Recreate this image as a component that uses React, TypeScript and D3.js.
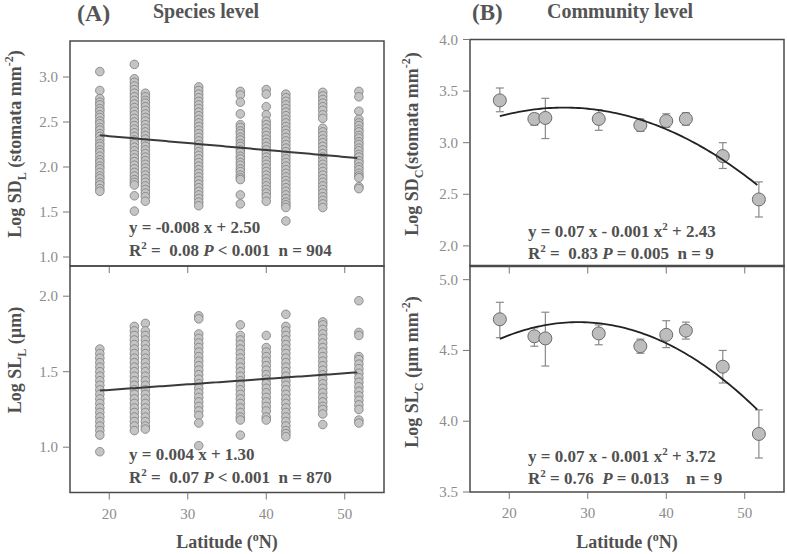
import React from 'react';
import * as d3 from 'd3';

// latitude of each sampling site (deg N)
const lats = [18.8, 23.2, 24.6, 31.4, 36.7, 40.0, 42.5, 47.2, 51.8];

// species level, log stomatal density, one list per site
const sdL = [
  [3.06, 2.85, 2.76, 2.72, 2.69, 2.65, 2.62, 2.58, 2.55, 2.51, 2.48, 2.44, 2.41, 2.37, 2.34, 2.30, 2.26, 2.23, 2.19, 2.16, 2.12, 2.08, 2.05, 2.01, 1.98, 1.94, 1.90, 1.87, 1.83, 1.80, 1.76, 1.73],
  [3.14, 2.98, 2.94, 2.90, 2.86, 2.82, 2.78, 2.74, 2.70, 2.66, 2.62, 2.58, 2.54, 2.50, 2.46, 2.42, 2.38, 2.34, 2.30, 2.26, 2.22, 2.18, 2.14, 2.10, 2.06, 2.02, 1.98, 1.94, 1.90, 1.86, 1.83, 1.80, 1.68, 1.51],
  [2.82, 2.78, 2.74, 2.71, 2.67, 2.63, 2.59, 2.55, 2.51, 2.47, 2.43, 2.39, 2.35, 2.31, 2.27, 2.23, 2.19, 2.15, 2.11, 2.07, 2.03, 1.99, 1.95, 1.91, 1.87, 1.83, 1.79, 1.75, 1.71, 1.67, 1.62],
  [2.89, 2.85, 2.81, 2.77, 2.73, 2.69, 2.65, 2.61, 2.57, 2.53, 2.49, 2.45, 2.41, 2.37, 2.33, 2.29, 2.25, 2.21, 2.17, 2.13, 2.09, 2.05, 2.01, 1.97, 1.93, 1.89, 1.85, 1.81, 1.77, 1.73, 1.69, 1.65, 1.61, 1.57],
  [2.84, 2.80, 2.72, 2.59, 2.47, 2.44, 2.40, 2.37, 2.33, 2.30, 2.26, 2.23, 2.19, 2.16, 2.12, 2.09, 2.05, 2.02, 1.98, 1.95, 1.91, 1.88, 1.86, 1.69, 1.59],
  [2.86, 2.81, 2.67, 2.58, 2.51, 2.47, 2.43, 2.39, 2.35, 2.31, 2.27, 2.23, 2.19, 2.15, 2.11, 2.07, 2.03, 1.99, 1.95, 1.91, 1.87, 1.83, 1.79, 1.75, 1.71, 1.67, 1.62],
  [2.81, 2.77, 2.73, 2.69, 2.65, 2.61, 2.57, 2.53, 2.49, 2.45, 2.41, 2.37, 2.33, 2.29, 2.25, 2.21, 2.17, 2.13, 2.09, 2.05, 2.01, 1.97, 1.93, 1.89, 1.85, 1.81, 1.77, 1.73, 1.69, 1.65, 1.61, 1.58, 1.55, 1.40],
  [2.83, 2.79, 2.75, 2.71, 2.67, 2.63, 2.58, 2.54, 2.43, 2.39, 2.35, 2.31, 2.27, 2.23, 2.19, 2.15, 2.11, 2.07, 2.03, 1.99, 1.95, 1.91, 1.87, 1.83, 1.79, 1.75, 1.71, 1.67, 1.63, 1.59, 1.55],
  [2.84, 2.78, 2.62, 2.53, 2.49, 2.46, 2.42, 2.39, 2.35, 2.32, 2.28, 2.25, 2.21, 2.18, 2.14, 2.11, 2.07, 2.04, 2.00, 1.97, 1.93, 1.90, 1.88, 1.78, 1.76],
];

// species level, log stomatal length
const slL = [
  [1.65, 1.62, 1.59, 1.56, 1.53, 1.50, 1.47, 1.44, 1.41, 1.38, 1.35, 1.32, 1.29, 1.26, 1.23, 1.20, 1.17, 1.14, 1.11, 1.08, 0.97],
  [1.80, 1.77, 1.74, 1.71, 1.68, 1.65, 1.62, 1.59, 1.56, 1.53, 1.50, 1.47, 1.44, 1.41, 1.38, 1.35, 1.32, 1.29, 1.26, 1.23, 1.20, 1.17, 1.14, 1.11],
  [1.82, 1.77, 1.74, 1.71, 1.68, 1.65, 1.62, 1.59, 1.56, 1.53, 1.50, 1.47, 1.44, 1.41, 1.38, 1.35, 1.32, 1.29, 1.26, 1.23, 1.20, 1.17, 1.14, 1.12],
  [1.87, 1.85, 1.75, 1.72, 1.69, 1.66, 1.63, 1.60, 1.57, 1.54, 1.51, 1.48, 1.45, 1.42, 1.39, 1.36, 1.33, 1.30, 1.27, 1.24, 1.21, 1.16, 1.01],
  [1.81, 1.74, 1.71, 1.68, 1.65, 1.62, 1.59, 1.56, 1.53, 1.50, 1.47, 1.44, 1.41, 1.38, 1.35, 1.32, 1.29, 1.26, 1.23, 1.20, 1.18, 1.08],
  [1.74, 1.66, 1.63, 1.60, 1.57, 1.54, 1.51, 1.48, 1.45, 1.42, 1.39, 1.36, 1.33, 1.30, 1.27, 1.24, 1.20, 1.18],
  [1.88, 1.80, 1.77, 1.74, 1.71, 1.68, 1.65, 1.62, 1.59, 1.56, 1.53, 1.50, 1.47, 1.44, 1.41, 1.38, 1.35, 1.32, 1.29, 1.26, 1.23, 1.20, 1.17, 1.14, 1.11, 1.09, 1.07],
  [1.83, 1.81, 1.78, 1.75, 1.72, 1.69, 1.66, 1.63, 1.60, 1.57, 1.54, 1.51, 1.48, 1.45, 1.42, 1.39, 1.36, 1.33, 1.30, 1.27, 1.25, 1.22, 1.15],
  [1.97, 1.76, 1.74, 1.60, 1.58, 1.55, 1.52, 1.49, 1.46, 1.43, 1.40, 1.37, 1.34, 1.31, 1.28, 1.25, 1.18, 1.16],
];

// community level means with error bar ends
const sdC = [3.41, 3.23, 3.24, 3.23, 3.17, 3.21, 3.23, 2.87, 2.45];
const sdCLo = [3.30, 3.17, 3.04, 3.12, 3.11, 3.15, 3.17, 2.75, 2.28];
const sdCHi = [3.53, 3.28, 3.43, 3.32, 3.23, 3.28, 3.29, 3.00, 2.62];
const slC = [4.72, 4.60, 4.585, 4.62, 4.53, 4.61, 4.64, 4.385, 3.91];
const slCLo = [4.59, 4.53, 4.39, 4.54, 4.48, 4.52, 4.58, 4.27, 3.74];
const slCHi = [4.84, 4.66, 4.77, 4.68, 4.58, 4.71, 4.70, 4.50, 4.08];

// fitted lines: [intercept, slope, quadratic]
const fitSdL = [2.497, -0.0077, 0];
const fitSlL = [1.306, 0.00367, 0];
const fitSdC = [2.436, 0.06696, -0.00124];
const fitSlC = [3.713, 0.06854, -0.00119];

const xTicks = [20, 30, 40, 50];
const sdLTicks = [1.0, 1.5, 2.0, 2.5, 3.0];
const slLTicks = [1.0, 1.5, 2.0];
const sdCTicks = [2.0, 2.5, 3.0, 3.5, 4.0];
const slCTicks = [3.5, 4.0, 4.5, 5.0];

const FONT = '"Liberation Serif", "Times New Roman", serif';
const TXT = '#505050';

function fitLine(fit, x, y) {
  var xs = d3.range(18.8, 51.81, 0.4);
  var line = d3.line()
    .x(function (d) { return x(d); })
    .y(function (d) { return y(fit[0] + fit[1] * d + fit[2] * d * d); });
  return line(xs);
}

function Frame({ x, y, yTicks, xLabels }) {
  var [x0, x1] = x.range();
  var [yb, yt] = y.range();
  return (
    <g>
      <rect x={x0} y={yt} width={x1 - x0} height={yb - yt} fill="none" stroke="#4a4a4a" strokeWidth={1.5} />
      {yTicks.map(function (t) {
        return (
          <g key={t}>
            <line x1={x0 - 7} x2={x0} y1={y(t)} y2={y(t)} stroke="#777" />
            <text x={x0 - 12} y={y(t) + 5} textAnchor="end" fontSize={15} fill="#8c8c8c">{t.toFixed(1)}</text>
          </g>
        );
      })}
      {xTicks.map(function (t) {
        return (
          <g key={t}>
            <line x1={x(t)} x2={x(t)} y1={yb} y2={yb + 7} stroke="#777" />
            {xLabels && <text x={x(t)} y={yb + 26} textAnchor="middle" fontSize={15} fill="#8c8c8c">{t}</text>}
          </g>
        );
      })}
    </g>
  );
}

function YTitle({ x, y, main, sub, rest, sup, tail }) {
  return (
    <text transform={'translate(' + x + ',' + y + ') rotate(-90)'} textAnchor="middle" fontSize={18} fontWeight="bold" fill={TXT} xmlSpace="preserve">
      {main}
      <tspan fontSize={12} dy={5}>{sub}</tspan>
      <tspan dy={-5}>{rest}</tspan>
      {sup && <tspan fontSize={12} dy={-8}>{sup}</tspan>}
      {sup && <tspan dy={8}>{tail}</tspan>}
      {!sup && tail}
    </text>
  );
}

function Stats({ x, y, eq, r2, p, n }) {
  return (
    <g fontSize={17} fontWeight="bold" fill={TXT}>
      <text x={x} y={y} xmlSpace="preserve">{eq}</text>
      <text x={x} y={y + 23} xmlSpace="preserve">
        R<tspan fontSize={11} dy={-7}>2</tspan>
        <tspan dy={7}>{r2}</tspan>
        <tspan fontStyle="italic">P</tspan>
        <tspan>{p}</tspan>
        <tspan>{n}</tspan>
      </text>
    </g>
  );
}

function QuadEq({ x, y, c }) {
  return (
    <text x={x} y={y} fontSize={17} fontWeight="bold" fill={TXT} xmlSpace="preserve">
      y = 0.07 x - 0.001 x<tspan fontSize={11} dy={-7}>2</tspan><tspan dy={7}>{' + ' + c}</tspan>
    </text>
  );
}

function Scatter({ cols, x, y }) {
  return (
    <g>
      {cols.map(function (col, i) {
        return col.map(function (v, j) {
          return <circle key={i + '-' + j} cx={x(lats[i])} cy={y(v)} r={4.3} fill="#c4c4c4" stroke="#7c7c7c" strokeWidth={0.8} />;
        });
      })}
    </g>
  );
}

function MeanPoints({ vals, lo, hi, x, y }) {
  return (
    <g>
      {vals.map(function (v, i) {
        var cx = x(lats[i]);
        return (
          <g key={i}>
            <line x1={cx} x2={cx} y1={y(lo[i])} y2={y(hi[i])} stroke="#8a8a8a" strokeWidth={1.2} />
            <line x1={cx - 4} x2={cx + 4} y1={y(lo[i])} y2={y(lo[i])} stroke="#8a8a8a" strokeWidth={1.2} />
            <line x1={cx - 4} x2={cx + 4} y1={y(hi[i])} y2={y(hi[i])} stroke="#8a8a8a" strokeWidth={1.2} />
          </g>
        );
      })}
      {vals.map(function (v, i) {
        return <circle key={'c' + i} cx={x(lats[i])} cy={y(v)} r={6.5} fill="#bdbdbd" stroke="#6a6a6a" strokeWidth={1} />;
      })}
    </g>
  );
}

export default function App() {
  var xL = d3.scaleLinear().domain([15, 55]).range([70, 384]);
  var xR = d3.scaleLinear().domain([15, 55]).range([470, 784]);
  var ySdL = d3.scaleLinear().domain([0.9, 3.4]).range([266, 41]);
  var ySlL = d3.scaleLinear().domain([0.7, 2.2]).range([492.5, 266]);
  var ySdC = d3.scaleLinear().domain([1.8, 4.0]).range([266.5, 39.5]);
  var ySlC = d3.scaleLinear().domain([3.5, 5.1]).range([492, 265.5]);

  return (
    <svg width={787} height={554} style={{ position: 'absolute', left: 0, top: 0, background: '#fff' }} fontFamily={FONT}>
      {/* panel headings */}
      <text x={77} y={21} fontSize={24} fontWeight="bold" fill="#555">(A)</text>
      <text x={153} y={17.5} fontSize={20} fontWeight="bold" fill="#555">Species level</text>
      <text x={472} y={19.5} fontSize={23} fontWeight="bold" fill="#555">(B)</text>
      <text x={547} y={17.5} fontSize={20} fontWeight="bold" fill="#555">Community level</text>

      {/* species level */}
      <Scatter cols={sdL} x={xL} y={ySdL} />
      <path d={fitLine(fitSdL, xL, ySdL)} fill="none" stroke="#3a3a3a" strokeWidth={2} />
      <Frame x={xL} y={ySdL} yTicks={sdLTicks} xLabels={false} />
      <Stats x={129} y={233} eq="y = -0.008 x + 2.50" r2=" =  0.08 " p=" < 0.001  " n="n = 904" />

      <Scatter cols={slL} x={xL} y={ySlL} />
      <path d={fitLine(fitSlL, xL, ySlL)} fill="none" stroke="#3a3a3a" strokeWidth={2} />
      <Frame x={xL} y={ySlL} yTicks={slLTicks} xLabels={true} />
      <Stats x={129} y={460} eq="y = 0.004 x + 1.30" r2=" =  0.07 " p=" < 0.001  " n="n = 870" />

      <YTitle x={21} y={144} main="Log SD" sub="L" rest=" (stomata mm" sup="-2" tail=")" />
      <YTitle x={21} y={360} main="Log SL" sub="L" rest=" (µm)" />

      {/* community level */}
      <MeanPoints vals={sdC} lo={sdCLo} hi={sdCHi} x={xR} y={ySdC} />
      <path d={fitLine(fitSdC, xR, ySdC)} fill="none" stroke="#222" strokeWidth={1.8} />
      <Frame x={xR} y={ySdC} yTicks={sdCTicks} xLabels={false} />
      <QuadEq x={528} y={236.5} c="2.43" />
      <text x={528} y={258.5} fontSize={17} fontWeight="bold" fill={TXT} xmlSpace="preserve">
        R<tspan fontSize={11} dy={-7}>2</tspan><tspan dy={7}>{' =  0.83 '}</tspan><tspan fontStyle="italic">P</tspan>{' = 0.005  n = 9'}
      </text>

      <MeanPoints vals={slC} lo={slCLo} hi={slCHi} x={xR} y={ySlC} />
      <path d={fitLine(fitSlC, xR, ySlC)} fill="none" stroke="#222" strokeWidth={1.8} />
      <Frame x={xR} y={ySlC} yTicks={slCTicks} xLabels={true} />
      <QuadEq x={528} y={461.5} c="3.72" />
      <text x={528} y={483.5} fontSize={17} fontWeight="bold" fill={TXT} xmlSpace="preserve">
        R<tspan fontSize={11} dy={-7}>2</tspan><tspan dy={7}>{' = 0.76  '}</tspan><tspan fontStyle="italic">P</tspan>{' = 0.013    n = 9'}
      </text>

      <YTitle x={418} y={144} main="Log SD" sub="C" rest="(stomata mm" sup="-2" tail=")" />
      <YTitle x={418} y={372} main="Log SL" sub="C" rest=" (µm mm" sup="-2" tail=")" />

      {/* x titles */}
      <text x={227} y={548} textAnchor="middle" fontSize={18} fontWeight="bold" fill={TXT}>
        Latitude (<tspan fontSize={12} dy={-7}>o</tspan><tspan dy={7}>N)</tspan>
      </text>
      <text x={627} y={548} textAnchor="middle" fontSize={18} fontWeight="bold" fill={TXT}>
        Latitude (<tspan fontSize={12} dy={-7}>o</tspan><tspan dy={7}>N)</tspan>
      </text>
    </svg>
  );
}
